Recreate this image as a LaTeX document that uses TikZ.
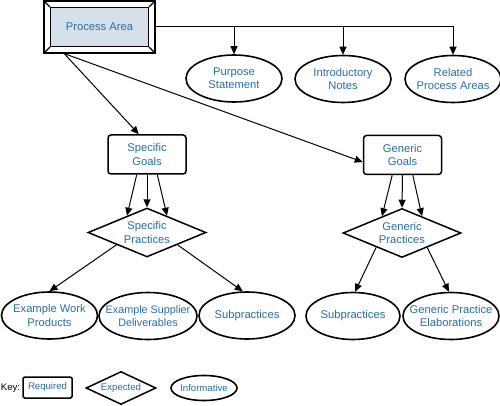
\documentclass[tikz,border=0pt]{standalone}
\usepackage{fontspec}
\setmainfont{Liberation Sans}
\usetikzlibrary{shapes.geometric,arrows.meta}
\definecolor{cmmiblue}{RGB}{38,110,168}
\definecolor{pafill}{RGB}{213,224,234}
\begin{document}
\begin{tikzpicture}[x=1pt,y=-1pt,>={Triangle[length=8pt,width=7pt]},
    font=\fontsize{11.2}{13.3}\selectfont,line width=1pt,
    txt/.style={text=cmmiblue,align=center,inner sep=0pt},
    keyfont/.style={font=\fontsize{9.6}{11}\selectfont},
    reqbox/.style={draw,line width=1.5pt,rounded corners=3pt,minimum width=78pt,minimum height=39pt,txt},
    expbox/.style={draw,line width=1.5pt,diamond,inner sep=0pt,minimum width=118pt,minimum height=49pt},
    infobox/.style={draw,line width=1.6pt,ellipse,inner sep=0pt,minimum width=96pt,minimum height=47pt}]
    \useasboundingbox (0,0) rectangle (500,406);
    % process area, bevelled box
    \node[draw,fill=white,line width=1.2pt,minimum width=111pt,minimum height=52pt] (pa) at (99.5,27) {};
    \node[draw,fill=pafill,line width=1.2pt,minimum width=98pt,minimum height=39pt,txt] (pain) at (pa) {Process Area};
    \draw[line width=1.2pt] (pa.north west) -- (pain.north west) (pa.north east) -- (pain.north east)
        (pa.south west) -- (pain.south west) (pa.south east) -- (pain.south east);
    % top row
    \node[infobox] (purp) at (234,78.5) {};
    \node[txt] (purpT) at (purp) {Purpose\\Statement};
    \node[infobox] (intro) at (343,79) {};
    \node[txt] (introT) at (intro) {Introductory\\Notes};
    \node[infobox] (rel) at (453,79) {};
    \node[txt] (relT) at (rel) {Related\\Process Areas};
    \draw[->] (pa.east) -| (purp.north);
    \draw[->] (pa.east) -| (intro.north);
    \draw[->] (pa.east) -| (rel.north);
    % goals and practices
    \node[reqbox] (sg) at (147,154.5) {Specific\\Goals};
    \node[reqbox] (gg) at (402.5,155) {Generic\\Goals};
    \node[expbox] (sp) at (147,232.5) {};
    \node[txt] (spT) at (sp) {Specific\\Practices};
    \node[expbox] (gp) at (402,233) {};
    \node[txt] (gpT) at (gp) {Generic\\Practices};
    \draw[->] (pa.217) -- (sg.112);
    \draw[->] (pa.217) -- (gg.190);
    \draw[->] (sg.243) -- (sp.140);
    \draw[->] (sg.south) -- (sp.north);
    \draw[->] (sg.297) -- (sp.40);
    \draw[->] (gg.243) -- (gp.140);
    \draw[->] (gg.south) -- (gp.north);
    \draw[->] (gg.297) -- (gp.40);
    % bottom row
    \node[infobox] (ewp) at (49.5,315.5) {};
    \node[txt] (ewpT) at (ewp) {Example Work\\Products};
    \node[infobox,minimum width=98pt] (esd) at (148,316) {};
    \node[txt,font=\fontsize{10.8}{13.3}\selectfont] (esdT) at (esd) {Example Supplier\\Deliverables};
    \node[infobox] (sub1) at (247,315.5) {};
    \node[txt] (sub1T) at (sub1) {Subpractices};
    \node[infobox,minimum width=94pt] (sub2) at (353,316) {};
    \node[txt] (sub2T) at (sub2) {Subpractices};
    \node[infobox] (gpe) at (451,316) {};
    \node[txt] (gpeT) at (gpe) {Generic Practice\\Elaborations};
    \draw[->] (sp.202) -- (ewp.north);
    \draw[->] (sp.338) -- (sub1.100);
    \draw[->] (gp.209) -- (sub2.85);
    \draw[->] (gp.330) -- (gpe.95);
    % key
    \node[keyfont,inner sep=0pt] (key) at (10.5,388) {Key:};
    \node[reqbox,keyfont,rounded corners=1.5pt,minimum width=49pt,minimum height=21pt] (keyreq) at (47.5,387.5) {Required};
    \node[expbox,minimum width=70pt,minimum height=33pt] (keyexp) at (121,388) {};
    \node[txt,keyfont] (keyexpT) at (keyexp) {Expected};
    \node[infobox,minimum width=66pt,minimum height=25pt] (keyinf) at (204,388) {};
    \node[txt,keyfont] (keyinfT) at (keyinf) {Informative};
\end{tikzpicture}
\end{document}
